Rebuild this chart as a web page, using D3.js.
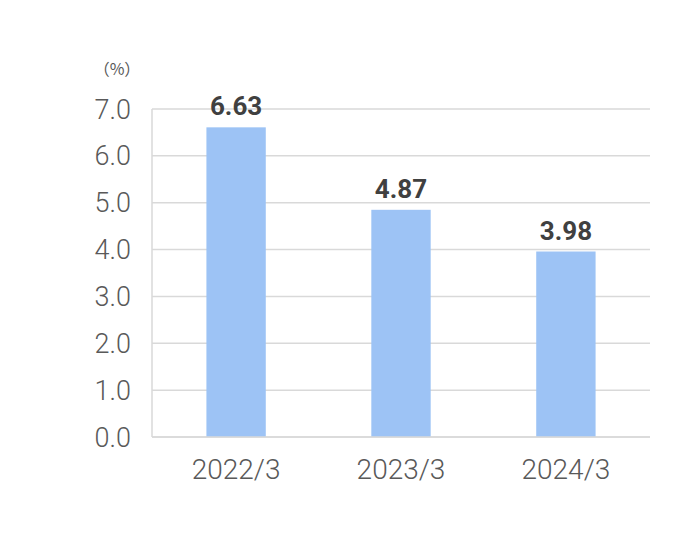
<!DOCTYPE html>
<html><head><meta charset="utf-8">
<script src="https://cdn.jsdelivr.net/npm/d3@7"></script>
<style>body{margin:0;background:#fff}</style>
</head><body>
<svg id="c" width="690" height="544"></svg>
<script>
const categories = ["2022/3", "2023/3", "2024/3"];
const values = [6.63, 4.87, 3.98];
const labels = ["6.63", "4.87", "3.98"];
const yTicks = [0, 1, 2, 3, 4, 5, 6, 7];

const svg = d3.select("#c");
const m = {left: 152, right: 650, top: 109, bottom: 437};
const x = d3.scaleBand().domain(categories).range([m.left, m.right]).paddingInner(0.64).paddingOuter(0.33);
const y = d3.scaleLinear().domain([0, 7]).range([m.bottom, m.top]);
const font = "Roboto, 'Noto Sans CJK JP', sans-serif";

// gridlines
svg.append("g").selectAll("line").data(yTicks).join("line")
  .attr("x1", m.left).attr("x2", m.right)
  .attr("y1", d => y(d)).attr("y2", d => y(d))
  .attr("stroke", "#d9d9d9").attr("stroke-width", 1.5);
// left axis line
svg.append("line").attr("x1", m.left).attr("x2", m.left).attr("y1", m.top).attr("y2", m.bottom)
  .attr("stroke", "#d9d9d9").attr("stroke-width", 1.5);

// bars
svg.append("g").selectAll("rect").data(values).join("rect")
  .attr("x", (d, i) => x(categories[i]))
  .attr("width", x.bandwidth())
  .attr("y", d => y(d) + 1)
  .attr("height", d => y(0) - y(d) - 1)
  .attr("fill", "#9dc3f5");

// bottom axis line over bars
svg.append("line").attr("x1", m.left).attr("x2", m.right).attr("y1", y(0)).attr("y2", y(0))
  .attr("stroke", "#d9d9d9").attr("stroke-width", 1.5);

// y tick labels
svg.append("g").selectAll("text").data(yTicks).join("text")
  .attr("x", 131).attr("y", d => y(d) + 9.5)
  .attr("text-anchor", "end")
  .attr("font-family", font).attr("font-weight", 300).attr("font-size", 27)
  .attr("fill", "#595959")
  .text(d => d.toFixed(1));

// x labels
svg.append("g").selectAll("text").data(categories).join("text")
  .attr("x", d => x(d) + x.bandwidth() / 2).attr("y", 479)
  .attr("text-anchor", "middle")
  .attr("font-family", font).attr("font-weight", 300).attr("font-size", 28)
  .attr("fill", "#595959")
  .text(d => d);

// data labels
svg.append("g").selectAll("text").data(values).join("text")
  .attr("x", (d, i) => x(categories[i]) + x.bandwidth() / 2)
  .attr("y", d => y(d) - 11)
  .attr("text-anchor", "middle")
  .attr("font-family", font).attr("font-weight", 700).attr("font-size", 26)
  .attr("fill", "#404040")
  .text((d, i) => labels[i]);

// unit label
svg.append("text").attr("x", 117).attr("y", 75).attr("text-anchor", "middle")
  .attr("font-family", "'Noto Sans CJK JP', sans-serif").attr("font-size", 16)
  .attr("fill", "#595959").text("（%）");
</script>
</body></html>
